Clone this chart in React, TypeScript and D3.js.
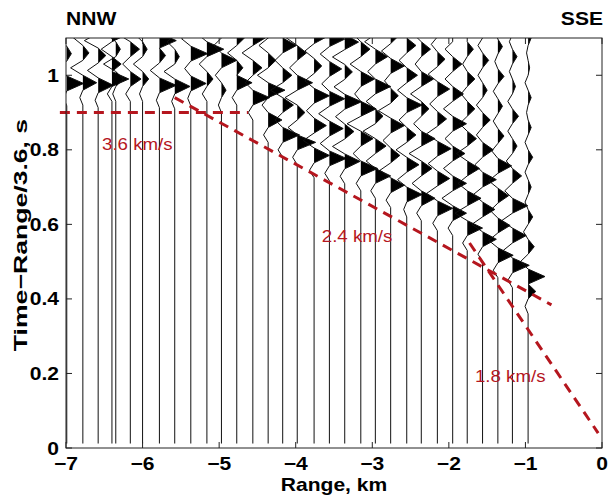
import React from "react";
import * as d3 from "d3";

// ---------- data ----------
const xTicks = [-7, -6, -5, -4, -3, -2, -1, 0];
const xTickLabels = ["\u22127", "\u22126", "\u22125", "\u22124", "\u22123", "\u22122", "\u22121", "0"];
const yTicks = [0, 0.2, 0.4, 0.6, 0.8, 1];
const yTickLabels = ["0", "0.2", "0.4", "0.6", "0.8", "1"];

// trace ranges (km)
const traceRange = [
  -6.99, -6.78, -6.58, -6.40, -6.35, -6.16, -6.0, -5.78, -5.58, -5.37, -5.16,
  -4.97, -4.77, -4.56, -4.36, -4.17, -3.98, -3.76, -3.56, -3.36, -3.15, -2.96,
  -2.76, -2.55, -2.36, -2.15, -1.95, -1.76, -1.56, -1.36, -1.17, -0.965,
];
// reduced time where each trace starts to wiggle (s)
const traceOnset = [
  0.918, 0.92, 0.913, 0.93, 0.93, 0.93, 0.93, 0.913, 0.91, 0.918, 0.93,
  0.9, 0.92, 0.88, 0.82, 0.78, 0.76, 0.725, 0.717, 0.709, 0.69, 0.67,
  0.645, 0.62, 0.61, 0.583, 0.57, 0.53, 0.5, 0.457, 0.43, 0.36,
];
// successive half-cycle amplitudes above onset (units of trace spacing)
const traceLobes = [
  [-0.2, 1.1, -0.6, 0.3, -0.5, 0.8],
  [-0.2, 0.9, -0.8, 0.4, -0.6, 0.5],
  [-0.2, 1.0, -0.7, 0.5, -0.9, 0.6],
  [-0.3, 1.1, 0.6, -0.7, 1.0],
  [-0.2, 0.5, -0.8, 0.3, -0.6, 1.2],
  [-0.3, 0.7, -0.5, 0.6, -0.8, 0.9],
  [-0.2, 0.4, -0.6, 0.3, -0.5, 1.1],
  [-0.2, 1.1, -0.6, 0.4, 1.1, -0.4],
  [-0.2, 1.0, -0.7, 0.3, -0.5, 0.6],
  [-0.2, 1.0, -0.4, 1.1, -0.6, 0.4],
  [-0.3, 0.4, -0.5, 1.1, -0.6],
  [-0.2, 0.3, -0.4, 1.0, -0.5, 0.5],
  [-0.3, 1.0, 0.4, -0.6, 0.5],
  [-0.3, 1.1, -0.5, 0.6, -0.7, 0.8],
  [-0.3, 0.9, -0.4, 1.1, -0.7, 0.5, -0.6, 0.7],
  [-0.3, 1.1, -0.5, 0.7, -0.8, 0.6, -0.5, 0.9],
  [-0.3, 1.2, -0.6, 0.5, -0.8, 1.0, -0.5, 0.6, -0.7],
  [-0.3, 1.0, -0.7, 0.8, -0.5, 1.0, -0.6, 0.5, -0.6, 0.9],
  [-0.3, 1.1, -0.6, 0.9, -0.7, 1.0, -0.5, 0.8, -0.6, 1.0],
  [-0.3, 1.0, -0.8, 0.6, -0.6, 1.1, -0.7, 0.5, -0.8, 0.9],
  [-0.3, 1.1, -0.5, 0.8, -0.9, 1.0, -0.4, 0.9, -0.7, 0.6, -0.5],
  [-0.3, 1.0, -0.6, 0.7, -0.8, 0.5, -0.6, 1.0, -0.5, 0.8, -0.7],
  [-0.3, 0.9, -0.7, 0.6, -0.5, 0.9, -0.8, 0.5, -0.4, 0.9, -0.6, 0.5],
  [-0.2, 1.0, -0.6, 0.8, -0.7, 0.6, -0.5, 1.0, -0.6, 0.7, -0.5, 0.6],
  [-0.3, 0.9, -0.6, 0.7, -0.8, 0.9, -0.5, 0.5, -0.7, 0.8, -0.4, 0.6, -0.5],
  [-0.3, 1.0, -0.7, 0.8, -0.6, 0.9, -0.7, 0.6, -0.5, 0.8, -0.6, 0.5, -0.4],
  [-0.3, 0.9, -0.7, 0.9, -0.6, 0.8, -0.5, 0.9, -0.6, 0.7, -0.5, 0.6, -0.5],
  [-0.3, 1.0, -0.8, 0.9, -0.6, 0.8, -0.7, 0.6, -0.5, 0.5, -0.4, 0.5, -0.3, 0.4],
  [-0.3, 0.9, -0.7, 0.8, -0.6, 0.9, -0.5, 0.7, -0.4, 0.5, -0.4, 0.3, -0.3, 0.4, -0.3, 0.2],
  [-0.3, 1.0, -0.6, 0.8, -0.5, 0.7, -0.6, 0.9, -0.4, 0.4, -0.3, 0.3, -0.3, 0.4, -0.2, 0.3, -0.2],
  [-0.3, 1.1, -0.6, 0.9, -0.7, 1.0, -0.5, 0.6, -0.4, 0.3, -0.3, 0.4, -0.3, 0.2, -0.2, 0.3, -0.2],
  [-0.2, 0.5, 1.1, -0.5, 0.4, -0.3, 0.3, -0.2, 0.2, -0.2, 0.3, -0.2, 0.2, -0.1, 0.2, -0.2, 0.1, -0.1, 0.2],
];

// velocity guide lines: [range, reducedTime] endpoints
const line36 = [[-7.08, 0.9], [-4.62, 0.9]];
const line24 = [[-5.58, 0.94], [-0.66, 0.384]];
const line18 = [[-1.73, 0.55], [-0.05, 0.04]];
const velLabels = [
  { text: "3.6 km/s", r: -6.53, t: 0.8 },
  { text: "2.4 km/s", r: -3.66, t: 0.553 },
  { text: "1.8 km/s", r: -1.66, t: 0.177 },
];

// ---------- layout ----------
const W = 610, Hh = 498;
const L = 66, R = 602, T = 38, B = 448;
const HALF = 0.04; // s per half cycle
const AMP = 0.2; // km per amplitude unit
const TSTART = 0.012;
const RED = "#b5161e";
const FONT = "'Liberation Sans', Arial, Helvetica, sans-serif";

const xs = d3.scaleLinear().domain([-7, 0]).range([L, R]);
const ys = d3.scaleLinear().domain([0, 1.1]).range([B, T]);
const line = d3.line<number[]>().x((d) => xs(d[0])).y((d) => ys(d[1]));

function Txt({ x, y, anchor = "start", size = 18, weight = "bold", fill = "#000", sx = 1.17, rotate = 0, children }: any) {
  return (
    <g transform={`translate(${x},${y}) rotate(${rotate}) scale(${sx},1)`}>
      <text textAnchor={anchor} fontSize={size} fontWeight={weight} fill={fill} fontFamily={FONT}>
        {children}
      </text>
    </g>
  );
}

export default function App() {
  const traces = traceRange.map((x0, i) => {
    const t0 = traceOnset[i];
    const lobes = traceLobes[i];
    const pts: number[][] = [[x0, TSTART], [x0, t0]];
    const fills: number[][][] = [];
    lobes.forEach((a, j) => {
      const ts = t0 + j * HALF;
      const tm = ts + HALF / 2;
      const te = ts + HALF;
      pts.push([x0 + a * AMP, tm]);
      pts.push([x0, te]);
      if (a > 0) fills.push([[x0, ts], [x0 + a * AMP, tm], [x0, te]]);
    });
    const last = t0 + lobes.length * HALF;
    if (last < 1.12) pts.push([x0, 1.12]);
    return { pts, fills };
  });

  const tickLen = 6;

  return (
    <svg width={W} height={Hh} style={{ position: "absolute", left: 0, top: 0, background: "#fff" }}>
      <defs>
        <clipPath id="plot">
          <rect x={L} y={T} width={R - L} height={B - T} />
        </clipPath>
      </defs>
      <rect x={0} y={0} width={W} height={Hh} fill="#fff" />
      <g clipPath="url(#plot)">
        {traces.map((tr, i) => (
          <g key={i}>
            {tr.fills.map((f, k) => (
              <path key={k} d={line(f as any) + "Z"} fill="#000" stroke="none" />
            ))}
            <path d={line(tr.pts as any) || ""} fill="none" stroke="#111" strokeWidth={1} />
          </g>
        ))}
      </g>
      {/* velocity lines */}
      {[line36, line24, line18].map((l, i) => (
        <path key={i} d={line(l as any) || ""} fill="none" stroke={RED} strokeWidth={3} strokeDasharray="10,7" />
      ))}
      {velLabels.map((v, i) => (
        <Txt key={i} x={xs(v.r)} y={ys(v.t)} size={17} weight="normal" fill={RED} sx={1.1}>
          {v.text}
        </Txt>
      ))}
      {/* frame */}
      <rect x={L} y={T} width={R - L} height={B - T} fill="none" stroke="#222" strokeWidth={1} />
      {xTicks.map((t, i) => (
        <g key={i}>
          <line x1={xs(t)} x2={xs(t)} y1={B} y2={B - tickLen} stroke="#222" />
          <line x1={xs(t)} x2={xs(t)} y1={T} y2={T + tickLen} stroke="#222" />
          <Txt x={xs(t)} y={B + 22} anchor="middle">{xTickLabels[i]}</Txt>
        </g>
      ))}
      {yTicks.map((t, i) => (
        <g key={i}>
          <line x1={L} x2={L + tickLen} y1={ys(t)} y2={ys(t)} stroke="#222" />
          <line x1={R} x2={R - tickLen} y1={ys(t)} y2={ys(t)} stroke="#222" />
          <Txt x={L - 7} y={ys(t) + 6.5} anchor="end">{yTickLabels[i]}</Txt>
        </g>
      ))}
      <Txt x={(L + R) / 2} y={491} anchor="middle">Range, km</Txt>
      <Txt x={27} y={235} anchor="middle" rotate={-90} size={19} sx={1.4}>Time{"\u2212"}Range/3.6, s</Txt>
      <Txt x={L} y={25} anchor="start">NNW</Txt>
      <Txt x={R + 1} y={25} anchor="end">SSE</Txt>
    </svg>
  );
}
